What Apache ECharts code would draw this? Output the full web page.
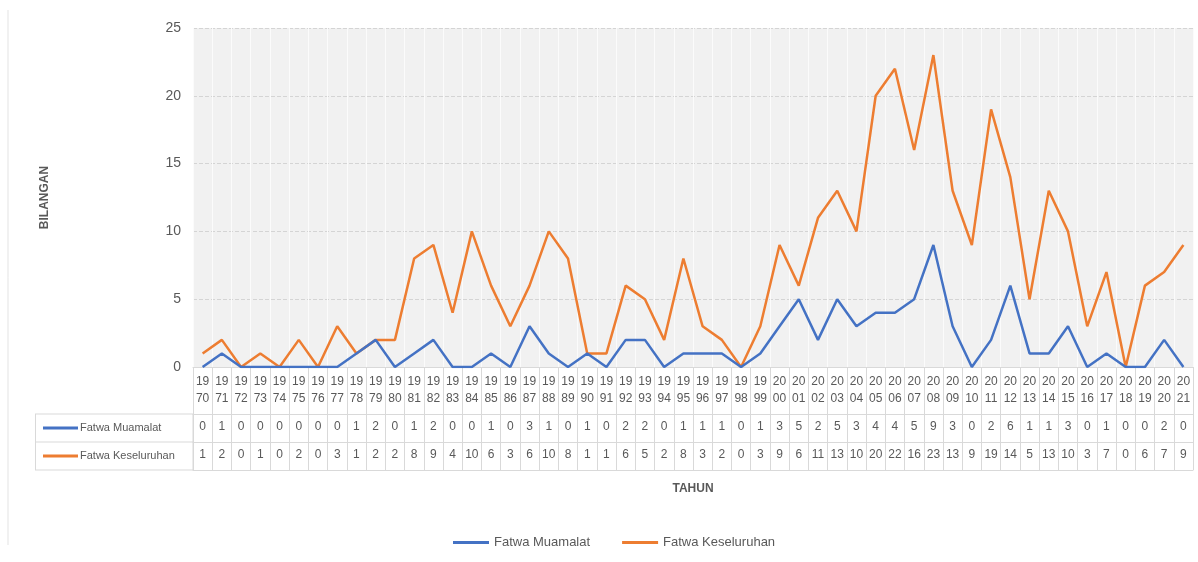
<!DOCTYPE html>
<html>
<head>
<meta charset="utf-8">
<script src="https://cdn.jsdelivr.net/npm/echarts@6/dist/echarts.min.js"></script>
<style>
  html, body { margin: 0; padding: 0; background: #fff; }
  #myChart { width: 1198px; height: 562px; }
</style>
</head>
<body>
<div id="myChart"></div>
<script>
// data
var years = ['1970','1971','1972','1973','1974','1975','1976','1977','1978','1979',
  '1980','1981','1982','1983','1984','1985','1986','1987','1988','1989',
  '1990','1991','1992','1993','1994','1995','1996','1997','1998','1999',
  '2000','2001','2002','2003','2004','2005','2006','2007','2008','2009',
  '2010','2011','2012','2013','2014','2015','2016','2017','2018','2019',
  '2020','2021'];
var muamalat = [0,1,0,0,0,0,0,0,1,2, 0,1,2,0,0,1,0,3,1,0, 1,0,2,2,0,1,1,1,0,1,
  3,5,2,5,3,4,4,5,9,3, 0,2,6,1,1,3,0,1,0,0, 2,0];
var keseluruhan = [1,2,0,1,0,2,0,3,1,2, 2,8,9,4,10,6,3,6,10,8, 1,1,6,5,2,8,3,2,0,3,
  9,6,11,13,10,20,22,16,23,13, 9,19,14,5,13,10,3,7,0,6, 7,9];
var yTicks = [0, 5, 10, 15, 20, 25];

var txt = '#595959';
var lineCol = '#d9d9d9';
var font = "'Liberation Sans Narrow', 'Liberation Sans', sans-serif";

var myChart = echarts.init(document.getElementById('myChart'));

// axes used as the data table below the plot
function tableAxis(offset, values, tickLen) {
  return {
    type: 'category',
    data: years,
    position: 'bottom',
    offset: offset,
    axisLine: { show: true, lineStyle: { color: lineCol } },
    axisTick: { show: tickLen > 0, interval: 0, length: tickLen, lineStyle: { color: lineCol } },
    axisLabel: {
      show: !!values,
      interval: 0,
      margin: 7,
      fontSize: 12,
      fontFamily: font,
      color: txt,
      formatter: function (v, i) { return values ? String(values[i]) : ''; }
    },
    splitLine: { show: false }
  };
}

var option = {
  backgroundColor: '#fff',
  animation: false,
  grid: {
    left: 193, right: 5, top: 28, bottom: 195,
    show: true, backgroundColor: '#f1f1f1', borderWidth: 0
  },
  xAxis: [
    {
      type: 'category',
      data: years,
      boundaryGap: true,
      axisLine: { show: true, lineStyle: { color: lineCol } },
      axisTick: { show: true, interval: 0, length: 47, lineStyle: { color: lineCol } },
      axisLabel: {
        interval: 0, margin: 6, fontSize: 12, lineHeight: 17,
        fontFamily: font, color: txt,
        formatter: function (v) { return v.slice(0, 2) + '\n' + v.slice(2); }
      },
      splitLine: { show: true, interval: 0, lineStyle: { color: '#fbfbfb', width: 1 } }
    },
    tableAxis(47, muamalat, 28),
    tableAxis(75, keseluruhan, 28),
    Object.assign(tableAxis(103, null, 0), {
      name: 'TAHUN',
      nameLocation: 'middle',
      nameGap: 13,
      nameTextStyle: { fontSize: 12, fontWeight: 'bold', color: txt, fontFamily: font }
    })
  ],
  yAxis: {
    type: 'value',
    min: yTicks[0],
    max: yTicks[yTicks.length - 1],
    interval: 5,
    name: 'BILANGAN',
    nameLocation: 'middle',
    nameGap: 142,
    nameTextStyle: { fontSize: 12, fontWeight: 'bold', color: txt, fontFamily: font },
    axisLine: { show: false },
    axisTick: { show: false },
    axisLabel: { fontSize: 14, color: txt, margin: 12, fontFamily: font },
    splitLine: { lineStyle: { color: '#d4d4d4', type: 'dashed' } }
  },
  legend: {
    data: ['Fatwa Muamalat', 'Fatwa Keseluruhan'],
    left: 448,
    top: 531,
    icon: 'rect',
    itemWidth: 36,
    itemHeight: 3,
    itemGap: 32,
    textStyle: { fontSize: 13, color: txt, fontFamily: font }
  },
  graphic: [
    // outer left border of the chart area
    { type: 'line', shape: { x1: 8, y1: 10, x2: 8, y2: 545 }, style: { stroke: '#e3e3e3', lineWidth: 1 } },
    // left header cells of the data table
    { type: 'line', shape: { x1: 35, y1: 414, x2: 193, y2: 414 }, style: { stroke: lineCol } },
    { type: 'line', shape: { x1: 35, y1: 442, x2: 193, y2: 442 }, style: { stroke: lineCol } },
    { type: 'line', shape: { x1: 35, y1: 470, x2: 193, y2: 470 }, style: { stroke: lineCol } },
    { type: 'line', shape: { x1: 35.5, y1: 414, x2: 35.5, y2: 470 }, style: { stroke: lineCol } },
    { type: 'line', shape: { x1: 193, y1: 414, x2: 193, y2: 470 }, style: { stroke: lineCol } },
    { type: 'line', shape: { x1: 43, y1: 428, x2: 78, y2: 428 }, style: { stroke: '#4472C4', lineWidth: 3 } },
    { type: 'line', shape: { x1: 43, y1: 456, x2: 78, y2: 456 }, style: { stroke: '#ED7D31', lineWidth: 3 } },
    { type: 'text', x: 80, y: 428, style: { text: 'Fatwa Muamalat', fill: txt, font: '11px ' + font, verticalAlign: 'middle' } },
    { type: 'text', x: 80, y: 456, style: { text: 'Fatwa Keseluruhan', fill: txt, font: '11px ' + font, verticalAlign: 'middle' } }
  ],
  series: [
    {
      name: 'Fatwa Muamalat',
      type: 'line',
      data: muamalat,
      symbol: 'none',
      z: 3,
      itemStyle: { color: '#4472C4' },
      lineStyle: { color: '#4472C4', width: 2.5 }
    },
    {
      name: 'Fatwa Keseluruhan',
      type: 'line',
      data: keseluruhan,
      symbol: 'none',
      z: 2,
      itemStyle: { color: '#ED7D31' },
      lineStyle: { color: '#ED7D31', width: 2.5 }
    }
  ]
};
myChart.setOption(option);
</script>
</body>
</html>
